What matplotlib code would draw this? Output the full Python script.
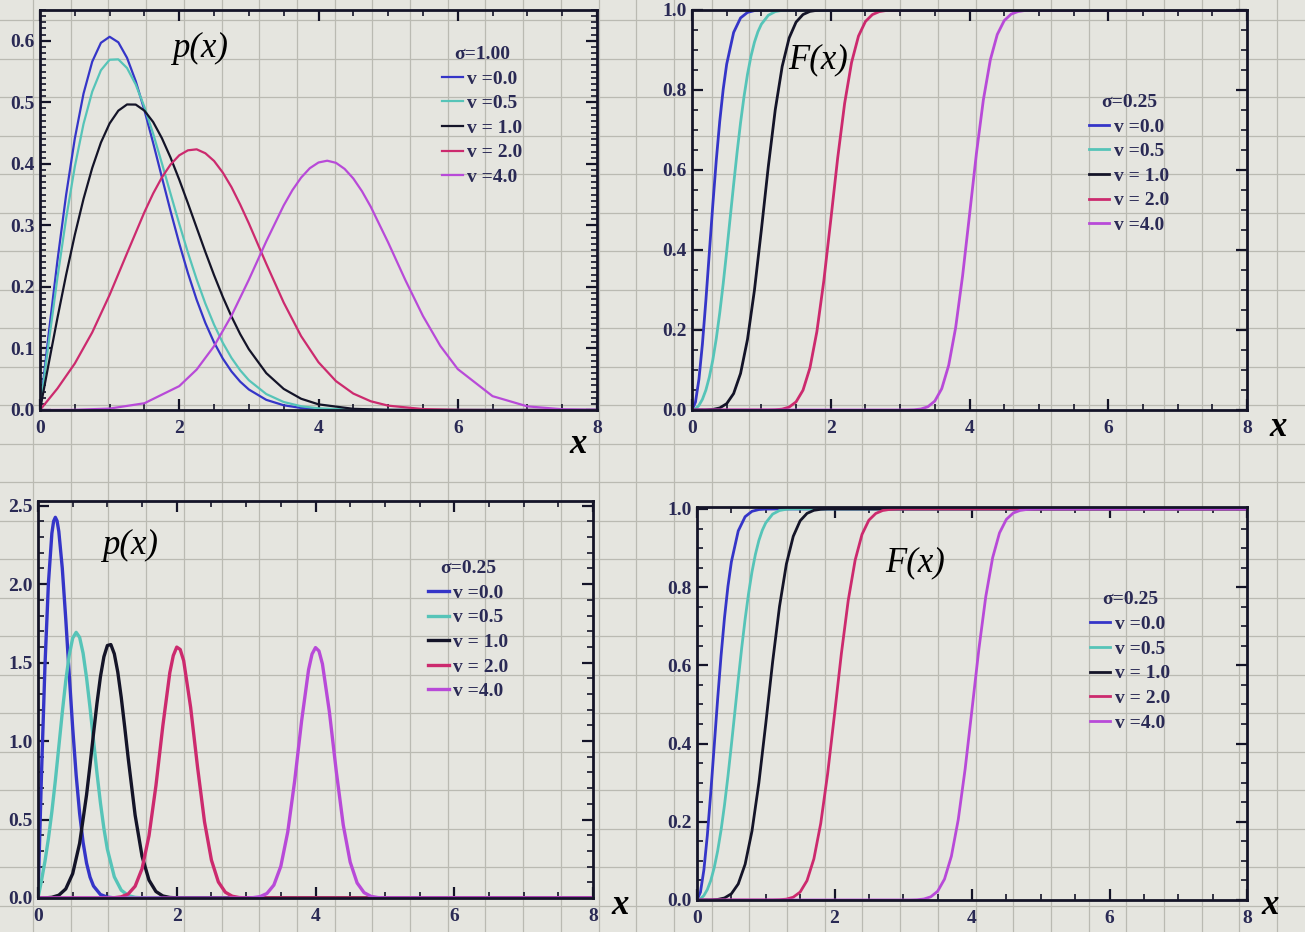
import numpy as np
import matplotlib.pyplot as plt
from matplotlib.ticker import MultipleLocator, FormatStrFormatter

## Rice distribution curves

nu_labels = ["v =0.0", "v =0.5", "v = 1.0", "v = 2.0", "v =4.0"]
colors = ["#3535c8", "#56c4b8", "#141428", "#cc2a6e", "#b84ad8"]

# top left: p(x), sigma = 1.00
x_s1 = [0, .125, .25, .375, .5, .625, .75, .875, 1, 1.125, 1.25, 1.375, 1.5, 1.625, 1.75, 1.875, 2,
        2.125, 2.25, 2.375, 2.5, 2.625, 2.75, 2.875, 3, 3.25, 3.5, 3.75, 4, 4.5, 5, 6, 8]
p_s1_nu0 = [0, .1240, .2423, .3495, .4412, .5141, .5661, .5967, .6065, .5975, .5723, .5343, .4870, .4341,
            .3785, .3233, .2707, .2223, .1791, .1415, .1098, .0837, .0627, .0461, .0333, .0165, .0077,
            .0033, .0013, .0002, 0, 0, 0]
p_s1_nu05 = [0, .1095, .2147, .3111, .3955, .4648, .5173, .5521, .5692, .5698, .5557, .5289, .4923, .4490,
             .4011, .3515, .3025, .2556, .2122, .1729, .1386, .1093, .0847, .0646, .0484, .0259, .0130,
             .0061, .0027, .0005, .0001, 0, 0]
p_s1_nu1 = [0, .0755, .1493, .2195, .2846, .3430, .3933, .4346, .4657, .4864, .4965, .4963, .4864, .4680,
            .4419, .4102, .3743, .3358, .2962, .2568, .2191, .1839, .1520, .1234, .0987, .0599, .0343,
            .0183, .0092, .0019, .0003, 0, 0]
x_s1_nu2 = [0, .25, .5, .75, 1, 1.25, 1.5, 1.625, 1.75, 1.875, 2, 2.125, 2.25, 2.375, 2.5, 2.625, 2.75,
            2.875, 3, 3.25, 3.5, 3.75, 4, 4.25, 4.5, 4.75, 5, 5.5, 6, 6.5, 8]
p_s1_nu2 = [0, .0349, .0756, .1261, .1871, .2547, .3216, .3518, .3778, .3989, .4139, .4220, .4236, .4172,
            .4047, .3859, .3622, .3339, .3032, .2376, .1746, .1201, .0776, .0470, .0267, .0142, .0071,
            .0015, .0002, 0, 0]
x_s1_nu4 = [0, .5, 1, 1.5, 2, 2.25, 2.5, 2.75, 3, 3.25, 3.5, 3.625, 3.75, 3.875, 4, 4.125, 4.25, 4.375,
            4.5, 4.625, 4.75, 5, 5.25, 5.5, 5.75, 6, 6.5, 7, 7.5, 8]
p_s1_nu4 = [0, .0003, .0023, .0110, .0388, .0657, .1038, .1532, .2118, .2741, .3324, .3572, .3776, .3929,
            .4022, .4051, .4017, .3918, .3762, .3554, .3304, .2723, .2105, .1528, .1041, .0665, .0225,
            .0059, .0012, .0002]

# bottom left: p(x), sigma = 0.25
x_q_nu0 = [0, .05, .1, .15, .2, .225, .25, .275, .3, .35, .4, .45, .5, .55, .6, .65, .7, .75, .8, .9,
           1.0, 1.1, 1.2, 8]
p_q_nu0 = [0, .784, 1.477, 2.005, 2.324, 2.401, 2.426, 2.403, 2.336, 2.102, 1.779, 1.425, 1.083, .783,
           .539, .354, .222, .133, .0765, .0221, .0054, .001, 0, 0]
x_q_nu05 = [0, .05, .1, .15, .2, .25, .3, .35, .4, .45, .5, .55, .6, .65, .7, .75, .8, .85, .9, .95, 1.0,
            1.1, 1.2, 1.3, 1.4, 1.5, 8]
p_q_nu05 = [0, .1104, .2331, .3781, .5503, .7483, .9638, 1.1823, 1.3833, 1.5478, 1.6561, 1.693, 1.661,
            1.560, 1.403, 1.213, 1.005, .7965, .606, .443, .3106, .1349, .0497, .0156, .0041, .001, 0]
x_q_nu1 = [0, .1, .2, .3, .4, .5, .6, .7, .75, .8, .85, .9, .95, 1.0, 1.05, 1.1, 1.15, 1.2, 1.25, 1.3,
           1.4, 1.5, 1.6, 1.7, 1.8, 1.9, 2.0, 8]
p_q_nu1 = [0, .0005, .0044, .0178, .0578, .1553, .3484, .6576, .8473, 1.047, 1.2403, 1.410, 1.5376,
           1.609, 1.6152, 1.556, 1.4396, 1.278, 1.0891, .8913, .528, .2659, .1138, .0413, .0128, .0034,
           .0008, 0]
x_q_nu2 = [0, 1.0, 1.1, 1.2, 1.3, 1.4, 1.5, 1.6, 1.7, 1.8, 1.9, 1.95, 2.0, 2.05, 2.1, 2.2, 2.3, 2.4, 2.5,
           2.6, 2.7, 2.8, 2.9, 3.0, 8]
p_q_nu2 = [0, 0, .0018, .0074, .0255, .0749, .1870, .3968, .7162, 1.0992, 1.4358, 1.5445, 1.599, 1.5837,
           1.512, 1.2153, .8331, .4860, .2414, .1021, .0368, .0113, .0029, .0007, 0]
x_q_nu4 = [0, 3.0, 3.1, 3.2, 3.3, 3.4, 3.5, 3.6, 3.7, 3.8, 3.9, 3.95, 4.0, 4.05, 4.1, 4.2, 4.3, 4.4, 4.5,
           4.6, 4.7, 4.8, 4.9, 5.0, 8]
p_q_nu4 = [0, 0, .0022, .0085, .0288, .0825, .2020, .4209, .7471, 1.1294, 1.4545, 1.5544, 1.5958, 1.574,
           1.4914, 1.1873, .8054, .4653, .2290, .0960, .0343, .0104, .0027, .0006, 0]

# right column: F(x), sigma = 0.25 (same curves in both panels)
xc_nu0 = [0, .05, .1, .15, .2, .25, .3, .35, .4, .45, .5, .6, .7, .8, .9, 1.0, 1.2, 8]
F_nu0 = [0, .0198, .0769, .1647, .2739, .3935, .5132, .6247, .7220, .8021, .8647, .9439, .9802, .9940,
         .9985, .9997, 1, 1]
xc_nu05 = [0, .05, .1, .15, .2, .25, .3, .35, .4, .45, .5, .55, .6, .65, .7, .75, .8, .85, .9, .95, 1.0,
           1.1, 1.2, 1.3, 1.4, 8]
F_nu05 = [0, .0028, .0114, .0266, .0498, .0823, .1251, .1787, .2429, .3162, .3963, .4800, .5638, .6444,
          .7184, .7838, .8393, .8843, .9194, .9456, .9645, .9868, .9960, .9993, 1, 1]
xc_nu1 = [0, .2, .3, .4, .5, .6, .7, .8, .9, 1.0, 1.1, 1.2, 1.3, 1.4, 1.5, 1.6, 1.7, 1.8, 1.9, 8]
F_nu1 = [0, .0003, .0014, .0052, .0159, .0411, .0914, .1766, .2995, .4505, .6088, .7505, .8590, .9300,
         .9697, .9887, .9965, .9992, 1, 1]
xc_nu2 = [0, 1.1, 1.2, 1.3, 1.4, 1.5, 1.6, 1.7, 1.8, 1.9, 2.0, 2.1, 2.2, 2.3, 2.4, 2.5, 2.6, 2.7, 2.8,
          2.9, 3.0, 8]
F_nu2 = [0, .0001, .0006, .0022, .0072, .0203, .0495, .1052, .1960, .3228, .4745, .6301, .7665, .8689,
         .9349, .9713, .9885, .9960, .9988, .9997, 1, 1]
xc_nu4 = [0, 3.1, 3.2, 3.3, 3.4, 3.5, 3.6, 3.7, 3.8, 3.9, 4.0, 4.1, 4.2, 4.3, 4.4, 4.5, 4.6, 4.7, 4.8,
          4.9, 5.0, 8]
F_nu4 = [0, .0001, .0006, .0025, .0081, .0223, .0534, .1118, .2056, .3348, .4873, .6417, .7756, .8752,
         .9387, .9734, .9897, .9962, .9988, .9997, 1, 1]

W, H = 1305, 932
SERIF = ["Liberation Serif", "DejaVu Serif"]
LABEL_COL = "#2a2a55"
FS = 14

fig = plt.figure(figsize=(W / 100, H / 100), dpi=100, facecolor="#e5e5df")

## graph paper behind everything
bg = fig.add_axes([0, 0, 1, 1], zorder=-10)
bg.set_xlim(0, W)
bg.set_ylim(H, 0)
bg.axis("off")
for gx in np.arange(33, W, 37.7):
  bg.axvline(gx, color="#babab2", lw=0.9)
for gy in np.arange(20, H, 38.5):
  bg.axhline(gy, color="#babab2", lw=0.9)

def px_axes(left, right, top, bottom):
  return fig.add_axes([left / W, 1 - bottom / H, (right - left) / W, (bottom - top) / H])

def style(ax, ymax, ymajor, yminor):
  ax.set_facecolor("none")
  ax.set_xlim(0, 8)
  ax.set_ylim(0, ymax)
  ax.xaxis.set_major_locator(MultipleLocator(2))
  ax.xaxis.set_minor_locator(MultipleLocator(0.5))
  ax.yaxis.set_major_locator(MultipleLocator(ymajor))
  ax.yaxis.set_minor_locator(MultipleLocator(yminor))
  ax.yaxis.set_major_formatter(FormatStrFormatter("%.1f"))
  ax.tick_params(which="both", direction="in", top=True, right=True, colors="#141428",
                 labelcolor=LABEL_COL)
  ax.tick_params(axis="y", pad=4)
  ax.tick_params(axis="x", pad=7)
  ax.tick_params(which="major", length=8, width=1.6)
  ax.tick_params(which="minor", length=4, width=1.2)
  for s in ax.spines.values():
    s.set_linewidth(2)
    s.set_color("#141428")
  for lab in ax.get_xticklabels() + ax.get_yticklabels():
    lab.set_fontfamily(SERIF)
    lab.set_fontweight("bold")
    lab.set_fontsize(FS)

def legend(ax, handles, title, fx, fy):
  leg = ax.legend(handles, nu_labels, title=title, frameon=False, loc="upper left",
                  bbox_to_anchor=(fx, fy), borderpad=0, borderaxespad=0,
                  handlelength=1.05, handletextpad=0.25, labelspacing=0.36,
                  prop={"family": SERIF, "weight": "bold", "size": FS},
                  title_fontproperties={"family": SERIF, "weight": "bold", "size": FS})
  for t in leg.get_texts():
    t.set_color(LABEL_COL)
  leg.get_title().set_color(LABEL_COL)

# top left
ax1 = px_axes(40, 597, 10, 410)
h = []
for xs, ys, c in zip([x_s1, x_s1, x_s1, x_s1_nu2, x_s1_nu4],
                     [p_s1_nu0, p_s1_nu05, p_s1_nu1, p_s1_nu2, p_s1_nu4], colors):
  h += ax1.plot(xs, ys, color=c, lw=1.6)
style(ax1, 0.65, 0.1, 0.01)
legend(ax1, h, "σ=1.00", 0.722, 0.91)

# top right
ax2 = px_axes(692, 1247, 10, 410)
cdf_x = [xc_nu0, xc_nu05, xc_nu1, xc_nu2, xc_nu4]
cdf_y = [F_nu0, F_nu05, F_nu1, F_nu2, F_nu4]
h = []
for xs, ys, c in zip(cdf_x, cdf_y, colors):
  h += ax2.plot(xs, ys, color=c, lw=2)
style(ax2, 1.0, 0.2, 0.05)
legend(ax2, h, "σ=0.25", 0.715, 0.79)

# bottom left
ax3 = px_axes(38, 593, 501, 898)
h = []
for xs, ys, c in zip([x_q_nu0, x_q_nu05, x_q_nu1, x_q_nu2, x_q_nu4],
                     [p_q_nu0, p_q_nu05, p_q_nu1, p_q_nu2, p_q_nu4], colors):
  h += ax3.plot(xs, ys, color=c, lw=2.4)
style(ax3, 2.53, 0.5, 0.1)
legend(ax3, h, "σ=0.25", 0.703, 0.851)

# bottom right
ax4 = px_axes(697, 1247, 507, 900)
h = []
for xs, ys, c in zip(cdf_x, cdf_y, colors):
  h += ax4.plot(xs, ys, color=c, lw=2)
style(ax4, 1.005, 0.2, 0.05)
legend(ax4, h, "σ=0.25", 0.714, 0.785)

## handwritten notes
hand = {"family": SERIF, "style": "italic", "size": 25, "color": "black", "ha": "center", "va": "center"}
for txt, px, py in [("p(x)", 200, 48), ("F(x)", 818, 60), ("p(x)", 130, 545), ("F(x)", 915, 563)]:
  fig.text(px / W, 1 - py / H, txt, **hand)
for px, py in [(578, 445), (1278, 428), (620, 905), (1270, 905)]:
  fig.text(px / W, 1 - py / H, "x", weight="bold", **hand)

plt.savefig("out.png", dpi=100, facecolor=fig.get_facecolor())
